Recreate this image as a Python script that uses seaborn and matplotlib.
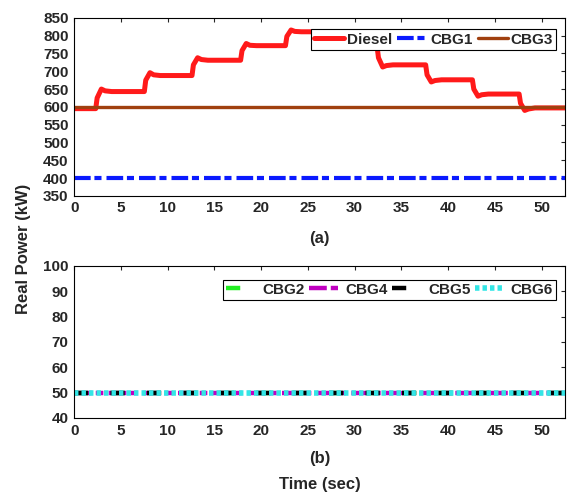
import numpy as np
import pandas as pd
import matplotlib
matplotlib.use("Agg")
import matplotlib.pyplot as plt
import seaborn as sns

# ─── Data ────────────────────────────────────────────────────────────────────
# Diesel output: step changes every ~5 s, small overshoot after each step
diesel_t = [0, 2.3, 2.45, 2.9, 3.3, 4.0, 7.5, 7.65, 8.1, 8.5, 9.2, 12.6, 12.75,
            13.2, 13.6, 14.3, 17.8, 17.95, 18.4, 18.8, 19.5, 22.6, 22.75, 23.2,
            23.6, 24.3, 27.6, 27.75, 28.2, 28.6, 29.3, 32.4, 32.55, 33.0, 33.4,
            34.1, 37.6, 37.75, 38.2, 38.6, 39.3, 42.6, 42.75, 43.2, 43.6, 44.3,
            47.6, 47.75, 48.2, 48.6, 49.3, 52.5]
diesel_p = [595, 595, 625, 650, 645, 643, 643, 675, 696, 690, 688, 688, 718,
            738, 733, 731, 731, 758, 778, 773, 772, 772, 798, 816, 812, 811, 811,
            785, 766, 769, 770, 770, 738, 712, 716, 718, 718, 690, 670, 674, 676,
            676, 650, 630, 634, 636, 636, 610, 590, 594, 597, 597]
t_span = [0, 52.5]
cbg1_p = [400, 400]
cbg3_p = [600, 600]
cbg2_p = [50, 50]
cbg4_p = [50, 50]
cbg5_p = [50, 50]
cbg6_p = [50, 50]

sns.set_style("white")
plt.rcParams["font.family"] = ["Liberation Sans", "DejaVu Sans"]
plt.rcParams["font.weight"] = "bold"
plt.rcParams["font.size"] = 11

fig = plt.figure(figsize=(5.8, 4.97), dpi=100)
ax1 = fig.add_axes([0.128, 0.606, 0.846, 0.358])
ax2 = fig.add_axes([0.128, 0.159, 0.846, 0.306])

# ─── (a) diesel / CBG1 / CBG3 ────────────────────────────────────────────────
sns.lineplot(x=diesel_t, y=diesel_p, ax=ax1, color="#ff1a1a", lw=3.6,
             label="Diesel", estimator=None, sort=False)
sns.lineplot(x=t_span, y=cbg1_p, ax=ax1, color="#0a1aff", lw=3.0,
             label="CBG1", estimator=None)
ax1.lines[-1].set_dashes([4.0, 0.9, 1.7, 1.2])
sns.lineplot(x=t_span, y=cbg3_p, ax=ax1, color="#a0400f", lw=2.4,
             label="CBG3", estimator=None)
ax1.set_xlim(0, 52.5)
ax1.set_ylim(350, 850)
ax1.set_yticks(np.arange(350, 851, 50))
ax1.set_xticks(np.arange(0, 51, 5))
ax1.set_xlabel("")
leg1 = ax1.legend(loc="upper right", bbox_to_anchor=(0.982, 0.935), ncol=3,
                  fancybox=False, edgecolor="black", framealpha=1,
                  handlelength=1.95, columnspacing=0.35, handletextpad=0.2,
                  borderpad=0.2, borderaxespad=0, fontsize=11)
leg1.get_frame().set_linewidth(0.8)

# ─── (b) CBG2 / CBG4 / CBG5 / CBG6 ───────────────────────────────────────────
sns.lineplot(x=t_span, y=cbg2_p, ax=ax2, color="#22ee22", lw=3.2,
             label="CBG2", estimator=None)
ax2.lines[-1].set_dashes([3.2, 5.0])
sns.lineplot(x=t_span, y=cbg4_p, ax=ax2, color="#c000c0", lw=3.2,
             label="CBG4", estimator=None)
ax2.lines[-1].set_dashes([4.0, 0.9, 1.7, 1.2])
sns.lineplot(x=t_span, y=cbg5_p, ax=ax2, color="black", lw=3.2,
             label="CBG5", estimator=None)
ax2.lines[-1].set_dashes([3.2, 5.0])
sns.lineplot(x=t_span, y=cbg6_p, ax=ax2, color="#33e6e6", lw=4.0,
             label="CBG6", estimator=None)
ax2.lines[-1].set_dashes([0.8, 0.55])
ax2.set_xlim(0, 52.5)
ax2.set_ylim(40, 100)
ax2.set_yticks(np.arange(40, 101, 10))
ax2.set_xticks(np.arange(0, 51, 5))
ax2.set_xlabel("")
leg2 = ax2.legend(loc="upper right", bbox_to_anchor=(0.982, 0.91), ncol=4,
                  fancybox=False, edgecolor="black", framealpha=1,
                  handlelength=1.9, columnspacing=0.3, handletextpad=0.45,
                  borderpad=0.2, borderaxespad=0, fontsize=11)
leg2.get_frame().set_linewidth(0.8)

for ax in (ax1, ax2):
    ax.set_ylabel("")
    ax.tick_params(direction="in", top=True, right=True, length=3,
                   width=0.8, labelsize=11, pad=4)
    for lab in ax.get_xticklabels() + ax.get_yticklabels():
        lab.set_fontweight("bold")
    for s in ax.spines.values():
        s.set_linewidth(0.8)
        s.set_color("black")

fig.text(0.04, 0.5, "Real Power (kW)", rotation=90, ha="center", va="center",
         fontsize=12, fontweight="bold")
fig.text(0.551, 0.521, "(a)", ha="center", va="center", fontsize=12,
         fontweight="bold")
fig.text(0.551, 0.078, "(b)", ha="center", va="center", fontsize=12,
         fontweight="bold")
fig.text(0.551, 0.026, "Time (sec)", ha="center", va="center", fontsize=12,
         fontweight="bold")

fig.savefig("out.png", dpi=100, facecolor="white")
